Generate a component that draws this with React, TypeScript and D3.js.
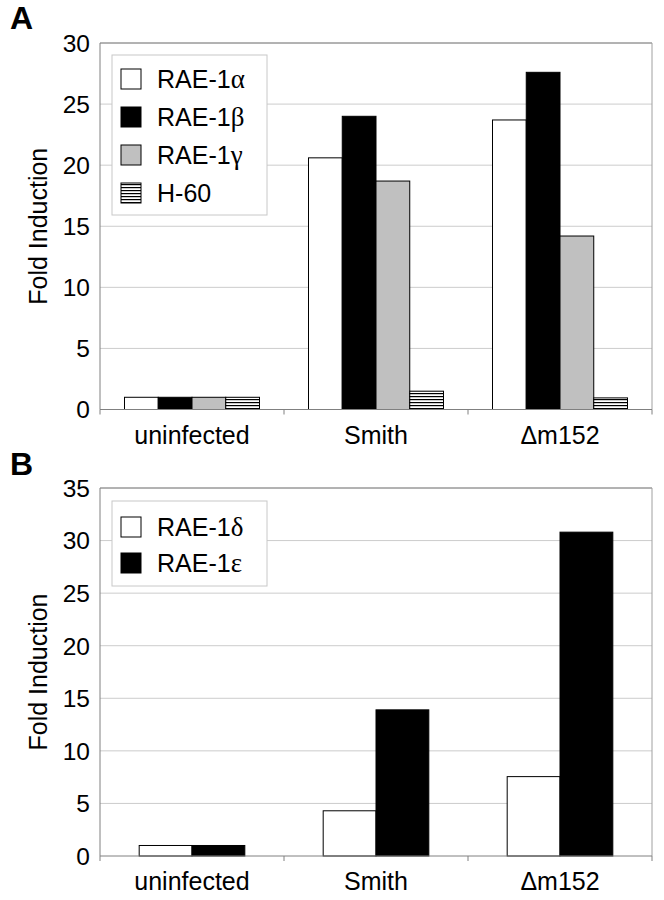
import React from 'react';
import * as d3 from 'd3';

// categories and series
const categories = ['uninfected', 'Smith', '\u0394m152'];

const seriesA = ['RAE-1\u03b1', 'RAE-1\u03b2', 'RAE-1\u03b3', 'H-60'];
const rae1Alpha = [1, 20.6, 23.7];
const rae1Beta = [1, 24.0, 27.6];
const rae1Gamma = [1, 18.7, 14.2];
const h60 = [1, 1.5, 0.95];
const ticksA = [0, 5, 10, 15, 20, 25, 30];

const seriesB = ['RAE-1\u03b4', 'RAE-1\u03b5'];
const rae1Delta = [1, 4.3, 7.55];
const rae1Epsilon = [1, 13.9, 30.8];
const ticksB = [0, 5, 10, 15, 20, 25, 30, 35];

const FONT = "Arial, 'Liberation Sans', sans-serif";
const GREEK = "'Times New Roman', 'Liberation Serif', 'DejaVu Serif', serif";

interface PanelProps {
  letter: string;
  letterY: number;
  top: number;
  bottom: number;
  ticks: number[];
  series: string[];
  values: number[][];
  fills: string[];
  pad: number;
  legendBox: { y: number; h: number };
  legendRows: number[];
}

// legend names: the greek letter is set in a serif face, as in the figure
const LegendName = ({ name }: { name: string }) => {
  const m = name.match(/^(.*?)([\u0370-\u03ff])$/);
  if (!m) return <>{name}</>;
  return (
    <>
      {m[1]}
      <tspan fontFamily={GREEK} fontSize={27}>{m[2]}</tspan>
    </>
  );
};

const Panel = ({ letter, letterY, top, bottom, ticks, series, values, fills, pad, legendBox, legendRows }: PanelProps) => {
  const left = 100;
  const right = 652;
  const y = d3.scaleLinear().domain([0, d3.max(ticks)!]).range([bottom, top]);
  const x0 = d3.scaleBand<string>().domain(categories).range([left, right]).padding(0);
  const x1 = d3.scaleBand<string>().domain(series).range([0, x0.bandwidth()]).paddingInner(0).paddingOuter(pad);

  return (
    <g>
      <text x={10} y={letterY} fontFamily={FONT} fontWeight="bold" fontSize={32}>{letter}</text>

      {/* grid */}
      {ticks.slice(1).map(t => (
        <line key={t} x1={left} x2={right} y1={y(t)} y2={y(t)} stroke="#cccccc" strokeWidth={1} />
      ))}
      <line x1={left} x2={right} y1={top} y2={top} stroke="#808080" />
      <line x1={right} x2={right} y1={top} y2={bottom} stroke="#a0a0a0" />

      {/* bars */}
      {categories.map((c, ci) => (
        <g key={c} transform={`translate(${x0(c)},0)`}>
          {series.map((s, si) => (
            <rect
              key={s}
              x={x1(s)}
              y={y(values[si][ci])}
              width={x1.bandwidth()}
              height={bottom - y(values[si][ci])}
              fill={fills[si]}
              stroke="#000"
              strokeWidth={1}
            />
          ))}
        </g>
      ))}

      {/* axes */}
      <line x1={left} x2={left} y1={top} y2={bottom} stroke="#808080" />
      <line x1={left} x2={right} y1={bottom} y2={bottom} stroke="#808080" />
      {[...categories.map(c => x0(c)!), right].map((xv, i) => (
        <line key={i} x1={xv} x2={xv} y1={bottom} y2={bottom + 5} stroke="#808080" />
      ))}
      {ticks.map(t => (
        <text key={t} x={90} y={y(t)} dy="0.36em" textAnchor="end" fontFamily={FONT} fontSize={24.5}>{t}</text>
      ))}
      {categories.map(c => (
        <text key={c} x={x0(c)! + x0.bandwidth() / 2} y={bottom + 34} textAnchor="middle" fontFamily={FONT} fontSize={25}>{c}</text>
      ))}
      <text
        transform={`translate(47,${(top + bottom) / 2}) rotate(-90)`}
        textAnchor="middle"
        fontFamily={FONT}
        fontSize={25}
      >Fold Induction</text>

      {/* legend */}
      <rect x={112} y={legendBox.y} width={155} height={legendBox.h} fill="#fff" stroke="#c8c8c8" />
      {series.map((s, si) => (
        <g key={s} transform={`translate(121,${legendRows[si]})`}>
          <rect x={0} y={-10} width={20} height={20} fill={fills[si]} stroke="#000" strokeWidth={1} />
          <text x={36} y={0} dy="0.36em" fontFamily={FONT} fontSize={25}><LegendName name={s} /></text>
        </g>
      ))}
    </g>
  );
};

export default function App() {
  return (
    <svg width={664} height={900} style={{ display: 'block', position: 'absolute', left: 0, top: 0, background: '#fff' }}>
      <defs>
        <pattern id="hstripe" patternUnits="userSpaceOnUse" width={4} height={3}>
          <rect width={4} height={3} fill="#fff" />
          <rect y={0} width={4} height={1.2} fill="#000" />
        </pattern>
      </defs>
      <rect width={664} height={900} fill="#fff" />
      <Panel
        letter="A"
        letterY={29}
        top={43}
        bottom={409.5}
        ticks={ticksA}
        series={seriesA}
        values={[rae1Alpha, rae1Beta, rae1Gamma, h60]}
        fills={['#fff', '#000', '#c0c0c0', 'url(#hstripe)']}
        pad={0.726}
        legendBox={{ y: 55, h: 160 }}
        legendRows={[79, 117, 155, 193]}
      />
      <Panel
        letter="B"
        letterY={475}
        top={488}
        bottom={856}
        ticks={ticksB}
        series={seriesB}
        values={[rae1Delta, rae1Epsilon]}
        fills={['#fff', '#000']}
        pad={0.742}
        legendBox={{ y: 501, h: 85 }}
        legendRows={[527, 563]}
      />
    </svg>
  );
}
